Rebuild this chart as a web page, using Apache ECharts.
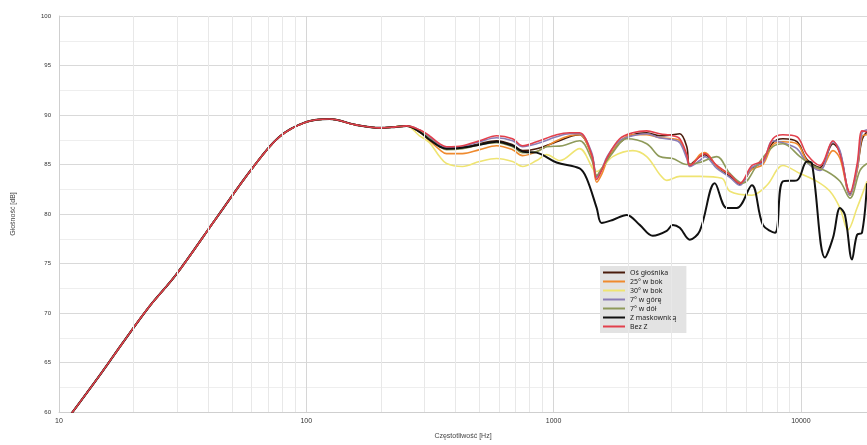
<!DOCTYPE html>
<html>
<head>
<meta charset="utf-8">
<script src="https://cdn.jsdelivr.net/npm/echarts@6/dist/echarts.min.js"></script>
<style>
html,body{margin:0;padding:0;background:#fff;}
#chart{width:867px;height:445px;}
</style>
</head>
<body>
<div id="chart"></div>
<script>
// ---- data (frequency in Hz, level in dB) ----
const xAxisTitle = 'Częstotliwość [Hz]';
const yAxisTitle = 'Głośność [dB]';
const seriesNames = ['Oś głośnika', '25° w bok', '30° w bok', '7° w górę', '7° w dół', 'Z maskownicą', 'Bez Z'];
const seriesColors = ['#4a1c0c', '#ef8a2e', '#efe472', '#8b7db6', '#8e9a5a', '#111111', '#e2404c'];
const xTickLabels = [10, 100, 1000, 10000];
const minorGridFreqs = [20,30,40,50,60,70,80,90,200,300,400,500,600,700,800,900,2000,3000,4000,5000,6000,7000,8000,9000];

// common part of all curves (below ~260 Hz)
const commonLow = [[11.2,59.8],[14.7,63.8],[18,66.9],[23.1,70.6],[29.8,73.9],[43.3,79.6],[60.4,84.6],[77.8,87.8],[100,89.3],[124,89.6],[159,89.0],[198,88.7],[230,88.8],[254,88.9]];

const osGlosnika = [[287,88.3],[315,87.6],[346,86.9],[369,86.6],[428,86.7],[502,87.1],[588,87.4],[682,87.0],[749,86.4],[854,86.6],[1028,87.3],[1161,87.8],[1274,88.0],[1425,86.0],[1494,83.8],[1564,84.5],[1654,85.6],[1850,87.2],[2089,88.0],[2379,88.2],[2686,87.9],[3032,88.0],[3237,88.1],[3455,86.8],[3553,85.0],[3901,85.8],[4087,86.0],[4570,84.8],[5158,83.8],[5662,83.0],[6332,84.6],[7018,85.3],[7703,87.2],[8455,87.6],[9634,87.3],[10576,85.5],[11940,84.7],[13480,87.1],[14390,86.2],[15790,82.0],[16860,84.5],[17660,87.5],[18500,88.3]];

const bok25 = [[287,88.3],[315,87.4],[346,86.5],[369,86.1],[428,86.1],[502,86.5],[588,86.9],[682,86.5],[749,85.9],[854,86.3],[1028,87.4],[1161,87.9],[1274,88.0],[1425,85.8],[1494,83.2],[1564,84.0],[1654,85.5],[1850,87.3],[2089,88.0],[2379,88.0],[2686,87.7],[3032,87.6],[3237,87.4],[3455,85.8],[3553,84.8],[3901,86.0],[4087,86.2],[4570,84.8],[5158,84.0],[5662,83.1],[6332,84.5],[7018,85.0],[7703,87.0],[8455,87.3],[9634,87.1],[10576,85.4],[11940,84.5],[13480,86.4],[14390,85.6],[15790,81.9],[16860,84.3],[17660,87.8],[18500,88.0]];

const bok30 = [[287,87.9],[315,87.2],[346,85.8],[369,85.1],[428,84.8],[502,85.3],[588,85.6],[682,85.3],[749,84.8],[854,85.4],[937,86.0],[1060,85.4],[1274,86.6],[1494,84.3],[1734,85.8],[2089,86.4],[2379,85.8],[2686,84.0],[2868,83.4],[3237,83.8],[3901,83.8],[4788,83.6],[5158,82.3],[6332,81.9],[7286,82.9],[8455,84.9],[9908,84.1],[11610,83.3],[13100,82.3],[14390,80.6],[15500,78.4],[16860,80.6],[18500,83.3]];

const gora7 = [[287,88.5],[315,87.8],[346,87.0],[369,86.7],[428,86.8],[502,87.3],[588,87.7],[682,87.4],[749,86.8],[854,87.1],[1028,87.8],[1161,88.1],[1274,88.1],[1425,86.2],[1494,83.7],[1564,84.5],[1654,85.9],[1850,87.4],[2089,87.9],[2379,88.1],[2686,87.7],[3032,87.5],[3237,87.2],[3455,85.6],[3553,84.8],[3901,85.4],[4087,85.8],[4570,84.6],[5158,83.7],[5662,82.9],[6332,84.7],[7018,85.2],[7703,87.4],[8455,87.2],[9634,86.6],[10576,85.2],[11940,84.4],[13480,87.3],[14390,86.4],[15790,81.9],[16860,84.6],[17660,88.2],[18500,88.5]];

const dol7 = [[287,88.4],[315,87.6],[346,86.8],[369,86.5],[428,86.6],[502,87.0],[588,87.2],[682,86.8],[749,86.2],[854,86.3],[937,86.8],[1087,86.9],[1274,87.4],[1425,85.5],[1494,83.9],[1564,84.6],[1734,86.2],[1975,87.6],[2379,87.1],[2686,85.8],[3032,85.6],[3455,85.0],[3901,85.2],[4570,85.8],[5158,84.1],[5823,83.1],[6634,84.9],[7703,86.8],[8455,87.1],[9908,85.8],[11080,84.9],[12740,84.3],[14390,83.3],[15790,81.6],[17340,84.4],[18500,85.1]];

const maskownica = [[287,88.3],[315,87.5],[346,86.8],[369,86.6],[428,86.7],[502,87.0],[588,87.3],[682,86.9],[749,86.3],[854,86.2],[1028,85.2],[1274,84.6],[1360,83.6],[1494,80.6],[1564,79.1],[1734,79.4],[1975,79.9],[2229,78.9],[2516,77.8],[2868,78.3],[3032,78.9],[3237,78.6],[3553,77.4],[3901,78.3],[4485,83.1],[5016,80.6],[5507,80.6],[6332,82.9],[7018,78.9],[7848,78.1],[8455,83.3],[9634,83.4],[10576,85.3],[11080,85.1],[12510,75.6],[13480,77.6],[14390,80.6],[15070,79.9],[16090,75.4],[16860,77.9],[17660,78.1],[18500,83.1]];

const bezZ = [[287,88.5],[315,87.9],[346,87.1],[369,86.8],[428,86.9],[502,87.4],[588,87.9],[682,87.6],[749,86.9],[854,87.3],[1028,88.0],[1161,88.2],[1274,88.2],[1425,86.0],[1494,83.5],[1564,84.4],[1654,85.8],[1850,87.6],[2089,88.2],[2379,88.4],[2686,88.1],[3032,87.9],[3237,87.6],[3455,86.0],[3553,84.9],[3901,85.8],[4087,86.1],[4570,84.9],[5158,84.0],[5662,83.1],[6332,84.9],[7018,85.4],[7703,87.6],[8455,88.0],[9634,87.8],[10576,86.0],[11940,84.9],[13480,87.4],[14390,86.0],[15790,82.2],[16860,85.0],[17660,88.4],[18500,88.3]];

const seriesData = [osGlosnika, bok25, bok30, gora7, dol7, maskownica, bezZ];

// ---- chart ----
const chart = echarts.init(document.getElementById('chart'), null, {renderer: 'canvas'});
const font = 'Liberation Sans, Arial, sans-serif';
const legendFont = 'Noto Sans, DejaVu Sans, sans-serif';

const series = [{
  name: '_grid',
  type: 'line',
  data: [],
  silent: true,
  markLine: {
    silent: true,
    symbol: ['none', 'none'],
    label: {show: false},
    animation: false,
    lineStyle: {color: '#e8e8e8', width: 1, type: 'solid'},
    data: minorGridFreqs.map(f => ({xAxis: f}))
  }
}];
seriesData.forEach((d, i) => {
  series.push({
    name: seriesNames[i],
    type: 'line',
    data: commonLow.concat(d),
    symbol: 'none',
    smooth: 0.35,
    clip: true,
    lineStyle: {width: i === 5 ? 2 : 1.6, color: seriesColors[i]},
    itemStyle: {color: seriesColors[i]},
    animation: false
  });
});

chart.setOption({
  backgroundColor: '#ffffff',
  animation: false,
  grid: {left: 59, right: 0, top: 16, bottom: 29, containLabel: false},
  legend: {
    data: seriesNames.map(n => ({name: n, icon: 'rect'})),
    orient: 'vertical',
    left: 600,
    top: 266,
    itemWidth: 22,
    itemHeight: 2,
    itemGap: 2,
    padding: [3, 10, 3, 3],
    backgroundColor: '#e3e3e3',
    textStyle: {fontSize: 7, color: '#222', fontFamily: legendFont, lineHeight: 7}
  },
  xAxis: {
    type: 'log',
    logBase: 10,
    min: 10,
    max: 18500,
    name: xAxisTitle,
    nameLocation: 'middle',
    nameGap: 21,
    nameTextStyle: {fontSize: 7, color: '#444', fontFamily: font},
    axisLine: {show: true, lineStyle: {color: '#cfcfcf'}},
    axisTick: {show: false},
    axisLabel: {
      fontSize: 7, color: '#333', fontFamily: font, margin: 6,
      showMaxLabel: false,
      formatter: v => (xTickLabels.indexOf(Math.round(v)) >= 0 ? String(Math.round(v)) : '')
    },
    splitLine: {show: true, lineStyle: {color: '#d6d6d6', width: 1}}
  },
  yAxis: {
    type: 'value',
    min: 60,
    max: 100,
    interval: 5,
    name: yAxisTitle,
    nameLocation: 'middle',
    nameRotate: 90,
    nameGap: 42,
    nameTextStyle: {fontSize: 7, color: '#444', fontFamily: font},
    axisLine: {show: true, lineStyle: {color: '#cfcfcf'}},
    axisTick: {show: false},
    axisLabel: {fontSize: 6, color: '#333', fontFamily: font, margin: 8},
    splitLine: {show: true, lineStyle: {color: '#d9d9d9', width: 1}},
    minorTick: {show: false, splitNumber: 2},
    minorSplitLine: {show: true, lineStyle: {color: '#eeeeee', width: 1}}
  },
  series: series
});
</script>
</body>
</html>
